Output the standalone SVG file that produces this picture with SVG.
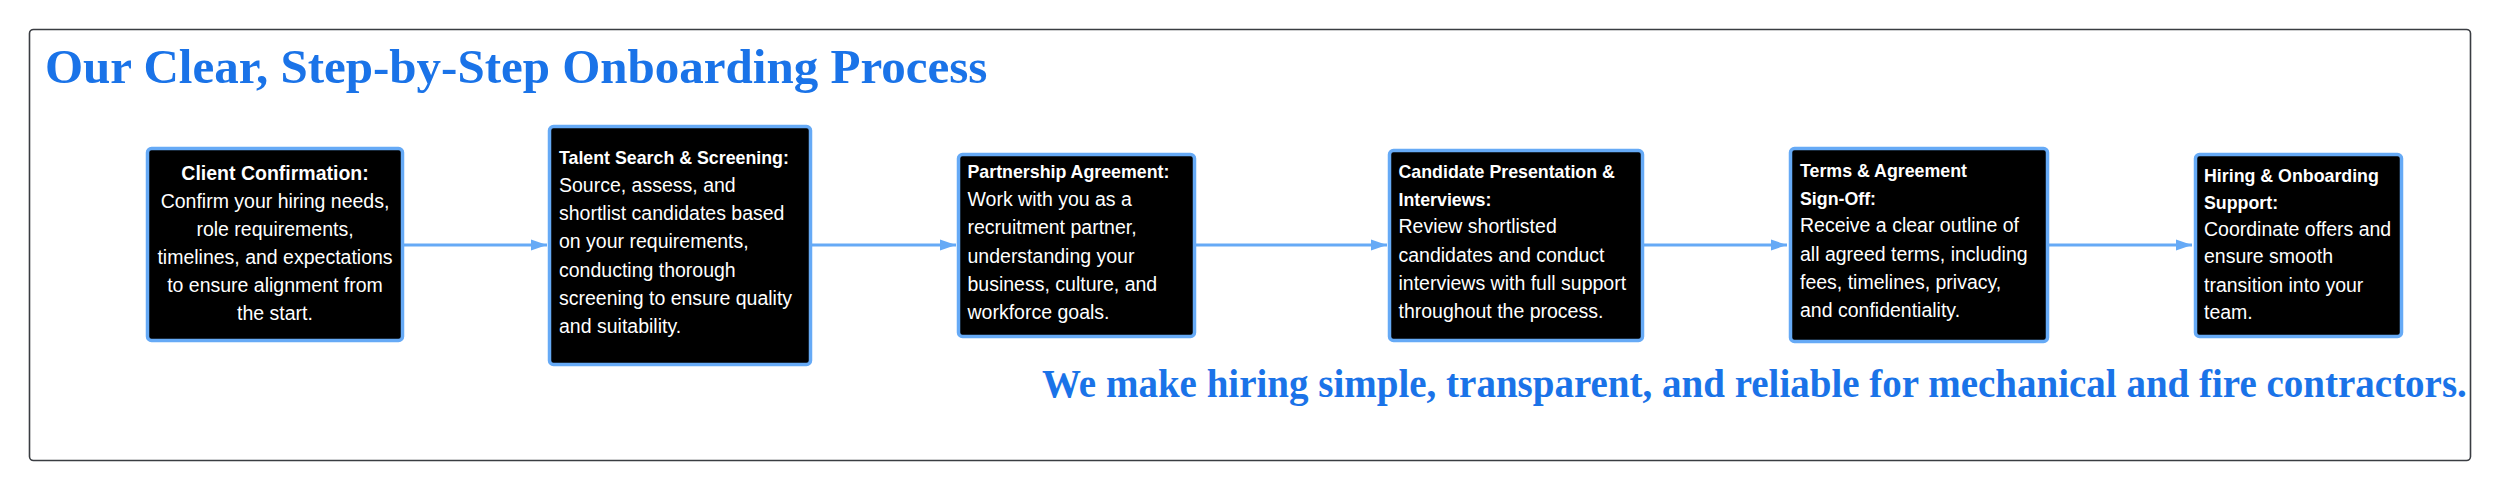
<svg xmlns="http://www.w3.org/2000/svg" width="2500" height="491" viewBox="0 0 2500 491">
<defs>
<style>
.frame{fill:#fff;stroke:#3a3d42;stroke-width:1.6}
.box{fill:#000;stroke:#66aaf6;stroke-width:3.5}
.t{font-family:"Liberation Sans",Arial,sans-serif;font-size:19.5px;fill:#fff}
.b{font-weight:bold;font-size:17.8px}
.b1{font-weight:bold}
.h{font-family:"Liberation Serif","Times New Roman",serif;font-weight:bold;fill:#1a73e8}
.conn{stroke:#66aaf6;stroke-width:3;fill:none}
</style>
<marker id="ah" markerWidth="16" markerHeight="12" refX="16" refY="6" orient="auto" markerUnits="userSpaceOnUse">
<path d="M0,0.5 L16,6 L0,11.5 z" fill="#66aaf6"/>
</marker>
</defs>
<rect width="2500" height="491" fill="#fff"/>
<rect class="frame" x="29.5" y="29.5" width="2441" height="431" rx="4"/>
<text class="h" x="45" y="83" font-size="49">Our Clear, Step-by-Step Onboarding Process</text>
<text class="h" x="1042" y="397" font-size="39">We make hiring simple, transparent, and reliable for mechanical and fire contractors.</text>
<g id="connectors">
<line class="conn" x1="403" y1="245" x2="547" y2="245" marker-end="url(#ah)"/>
<line class="conn" x1="812" y1="245" x2="956" y2="245" marker-end="url(#ah)"/>
<line class="conn" x1="1196" y1="245" x2="1387" y2="245" marker-end="url(#ah)"/>
<line class="conn" x1="1644" y1="245" x2="1787" y2="245" marker-end="url(#ah)"/>
<line class="conn" x1="2049" y1="245" x2="2192" y2="245" marker-end="url(#ah)"/>
</g>
<g id="node1">
<rect class="box" x="147.5" y="148.5" width="255" height="192" rx="4"/>
<text class="t" text-anchor="middle"><tspan class="b1" x="275" y="179.5">Client Confirmation:</tspan><tspan x="275" y="207.5">Confirm your hiring needs,</tspan><tspan x="275" y="235.5">role requirements,</tspan><tspan x="275" y="263.5">timelines, and expectations</tspan><tspan x="275" y="291.5">to ensure alignment from</tspan><tspan x="275" y="319.5">the start.</tspan></text>
</g>
<g id="node2">
<rect class="box" x="549.5" y="126.5" width="261" height="238" rx="4"/>
<text class="t"><tspan class="b" x="559" y="164">Talent Search &amp; Screening:</tspan><tspan x="559" y="192">Source, assess, and</tspan><tspan x="559" y="220">shortlist candidates based</tspan><tspan x="559" y="248.3">on your requirements,</tspan><tspan x="559" y="276.7">conducting thorough</tspan><tspan x="559" y="305">screening to ensure quality</tspan><tspan x="559" y="332.7">and suitability.</tspan></text>
</g>
<g id="node3">
<rect class="box" x="958.5" y="154.5" width="236" height="182" rx="4"/>
<text class="t"><tspan class="b" x="967.5" y="178.3">Partnership Agreement:</tspan><tspan x="967.5" y="206">Work with you as a</tspan><tspan x="967.5" y="234.3">recruitment partner,</tspan><tspan x="967.5" y="262.7">understanding your</tspan><tspan x="967.5" y="291">business, culture, and</tspan><tspan x="967.5" y="318.7">workforce goals.</tspan></text>
</g>
<g id="node4">
<rect class="box" x="1389.5" y="150.5" width="253" height="190" rx="4"/>
<text class="t"><tspan class="b" x="1398.5" y="178.3">Candidate Presentation &amp;</tspan><tspan class="b" x="1398.5" y="205.7">Interviews:</tspan><tspan x="1398.5" y="233.3">Review shortlisted</tspan><tspan x="1398.5" y="261.7">candidates and conduct</tspan><tspan x="1398.5" y="290">interviews with full support</tspan><tspan x="1398.5" y="317.7">throughout the process.</tspan></text>
</g>
<g id="node5">
<rect class="box" x="1790.5" y="148.5" width="257" height="193" rx="4"/>
<text class="t"><tspan class="b" x="1800" y="177.3">Terms &amp; Agreement</tspan><tspan class="b" x="1800" y="204.7">Sign-Off:</tspan><tspan x="1800" y="232.3">Receive a clear outline of</tspan><tspan x="1800" y="260.7">all agreed terms, including</tspan><tspan x="1800" y="289">fees, timelines, privacy,</tspan><tspan x="1800" y="316.7">and confidentiality.</tspan></text>
</g>
<g id="node6">
<rect class="box" x="2195.5" y="154.5" width="206" height="182" rx="4"/>
<text class="t"><tspan class="b" x="2204" y="182.3">Hiring &amp; Onboarding</tspan><tspan class="b" x="2204" y="209">Support:</tspan><tspan x="2204" y="235.5">Coordinate offers and</tspan><tspan x="2204" y="263.3">ensure smooth</tspan><tspan x="2204" y="291.7">transition into your</tspan><tspan x="2204" y="319.3">team.</tspan></text>
</g>
</svg>
